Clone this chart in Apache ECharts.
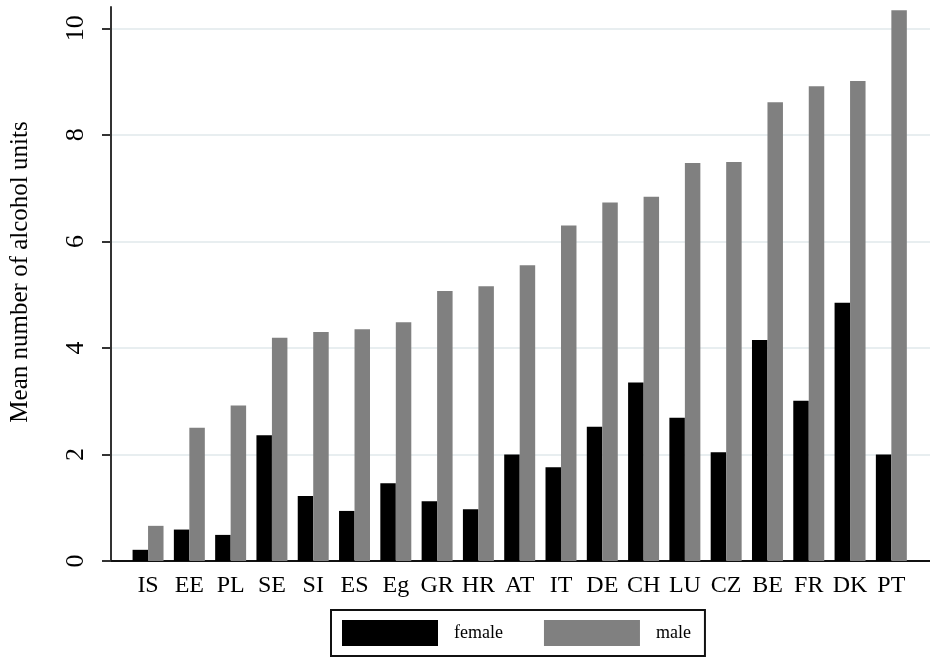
<!DOCTYPE html>
<html>
<head>
<meta charset="utf-8">
<script src="https://cdn.jsdelivr.net/npm/echarts@6/dist/echarts.min.js"></script>
<style>html,body{margin:0;padding:0;background:#fff;}#c{width:930px;height:659px;}</style>
</head>
<body>
<div id="c"></div>
<script>
const countries = ['IS','EE','PL','SE','SI','ES','Eg','GR','HR','AT','IT','DE','CH','LU','CZ','BE','FR','DK','PT'];
const female = [0.21,0.59,0.49,2.36,1.22,0.94,1.46,1.12,0.97,2.00,1.76,2.52,3.35,2.69,2.04,4.15,3.01,4.85,2.00];
const male   = [0.66,2.50,2.92,4.19,4.30,4.35,4.48,5.07,5.16,5.55,6.30,6.73,6.84,7.47,7.49,8.61,8.91,9.01,10.34];
const yTicks = [0,2,4,6,8,10];

const FONT = '"Liberation Serif", "DejaVu Serif", serif';
const chart = echarts.init(document.getElementById('c'));
chart.setOption({
  animation: false,
  textStyle: { fontFamily: FONT },
  grid: [
    { left: 104, right: 0, top: 7, bottom: 98 },
    { left: 127.4, right: 18, top: 7, bottom: 98 }
  ],
  xAxis: [
    { gridIndex: 0, type: 'value', min: 0, max: 1, axisLine: { show: true, lineStyle: { color: '#111', width: 2 } },
      axisTick: { show: false }, axisLabel: { show: false }, splitLine: { show: false } },
    { gridIndex: 1, type: 'category', data: countries, boundaryGap: true,
      axisLine: { show: false }, axisTick: { show: false }, splitLine: { show: false },
      axisLabel: { color: '#000', fontFamily: FONT, fontSize: 24, margin: 13, interval: 0 } }
  ],
  yAxis: [
    { gridIndex: 0, type: 'value', min: 0, max: 10.4, interval: 2,
      name: 'Mean number of alcohol units', nameLocation: 'middle', nameGap: 78, nameRotate: 90,
      nameTextStyle: { color: '#000', fontFamily: FONT, fontSize: 25, padding: [0, 0, 0, 24] },
      axisLine: { show: true, lineStyle: { color: '#333', width: 2 } },
      axisTick: { show: true, length: 9, lineStyle: { color: '#333', width: 2 }, customValues: yTicks },
      axisLabel: { rotate: 90, color: '#000', fontFamily: FONT, fontSize: 26, margin: 22, customValues: yTicks },
      splitLine: { show: true, lineStyle: { color: '#e8eef0', width: 2 } } },
    { gridIndex: 1, type: 'value', min: 0, max: 10.4, show: false, splitLine: { show: false } }
  ],
  legend: {
    left: 331, top: 610, width: 377,
    orient: 'horizontal',
    padding: [10, 14, 10, 11],
    itemWidth: 96, itemHeight: 26, itemGap: 41,
    borderColor: '#111', borderWidth: 2,
    icon: 'rect',
    textStyle: { color: '#000', fontFamily: FONT, fontSize: 18, padding: [0, 0, 0, 11] },
    data: ['female', 'male']
  },
  series: [
    { name: 'female', type: 'bar', xAxisIndex: 1, yAxisIndex: 1, data: female,
      itemStyle: { color: '#000' }, barGap: '0%', barCategoryGap: '25%' },
    { name: 'male', type: 'bar', xAxisIndex: 1, yAxisIndex: 1, data: male,
      itemStyle: { color: '#808080' }, barGap: '0%', barCategoryGap: '25%' }
  ]
});
</script>
</body>
</html>
